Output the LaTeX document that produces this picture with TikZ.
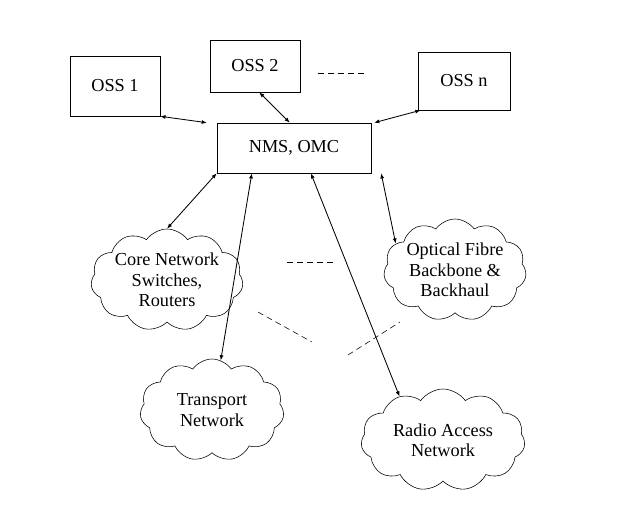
\documentclass[tikz,border=0pt]{standalone}
\usepackage{fontspec}
\setmainfont{Liberation Serif}
\usetikzlibrary{arrows.meta,shapes.symbols}

\begin{document}
\begin{tikzpicture}[
        x=0.25mm, y=-0.25mm,
        font=\fontsize{13}{14.5}\selectfont,
        box/.style={
            rectangle,
            draw,
            thin,
        },
        net/.style={
            cloud,
            draw,
            thin,
            cloud ignores aspect,
            cloud puffs=11,
            cloud puff arc=110,
            align=center,
            inner sep=0pt,
        },
        link/.style={
            {Latex[length=1.3mm,width=1mm]}-{Latex[length=1.3mm,width=1mm]}, semithick
        },
        gap/.style={
            dashed, thin, dash pattern=on 1.5mm off 1mm
        },
    ]
        \useasboundingbox (0,0) rectangle (631,510);

        \node [box, minimum width=22.5mm, minimum height=15mm] (oss1) at (115,86) {OSS 1};
        \node [box, minimum width=22.5mm, minimum height=13mm] (oss2) at (255,66) {OSS 2};
        \node [box, minimum width=23mm, minimum height=14.5mm] (ossn) at (464,81) {OSS n};
        \node [box, minimum width=38.5mm, minimum height=12.5mm] (nms) at (294,148) {NMS, OMC};

        \node [net, minimum width=32mm, minimum height=25.5mm] (core) at (167,280) {Core Network\\Switches,\\Routers};
        \node [net, minimum width=35mm, minimum height=25.5mm] (optical) at (455,270) {Optical Fibre\\Backbone \&\\Backhaul};
        \node [net, minimum width=36mm, minimum height=25.5mm] (transport) at (212,410) {Transport\\Network};
        \node [net, minimum width=41mm, minimum height=25.5mm] (radio) at (443,440) {Radio Access\\Network};

        \draw [link] (oss1.south east) -- ([xshift=-7]nms.north west);
        \draw [link] ([xshift=3]oss2.south) -- ([xshift=-3]nms.north);
        \draw [link] ([xshift=2]ossn.south west) -- ([xshift=2]nms.north east);

        \draw [link] ([xshift=-55]nms.south) -- (core.90);
        \draw [link] ([xshift=-30]nms.south) -- (transport.80);
        \draw [link] ([xshift=12]nms.south) -- (radio.135);
        \draw [link] ([xshift=62]nms.south) -- (optical.156);

        \draw [gap] (318,73) -- (366,73);
        \draw [gap] (287,262) -- (333,262);
        \draw [gap] (258,312) -- (312,342);
        \draw [gap] (348,355) -- (400,322);
    \end{tikzpicture}
\end{document}
